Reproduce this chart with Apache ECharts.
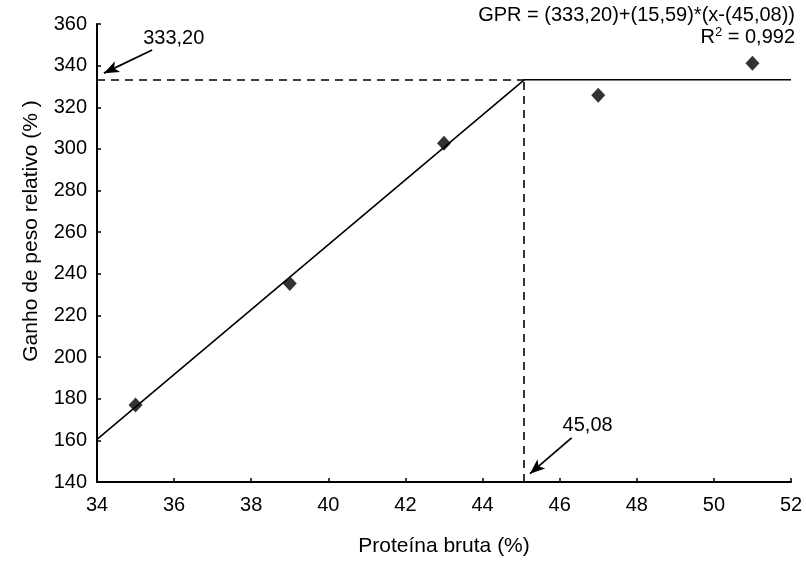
<!DOCTYPE html>
<html>
<head>
<meta charset="utf-8">
<script src="https://cdn.jsdelivr.net/npm/echarts@6/dist/echarts.min.js"></script>
<style>
  html, body { margin: 0; padding: 0; background: #fff; }
  #chart { width: 806px; height: 565px; }
</style>
</head>
<body>
<div id="chart"></div>
<script>
// Observed relative weight gain by crude protein level
const proteinLevels = [35, 39, 43, 47, 51];
const weightGain = [177.0, 235.3, 302.7, 325.8, 341.2];

// Broken-line (plateau) model parameters
const plateau = 333.20;
const slope = 15.59;
const breakPoint = 45.08;
const rSquared = 0.992;
const xMin = 34, xMax = 52;
const yMin = 140, yMax = 360;

const fmt = (v, d) => v.toFixed(d).replace('.', ',');
const modelAt = x => Math.min(plateau, plateau + slope * (x - breakPoint));
const modelLine = [[xMin, modelAt(xMin)], [breakPoint, plateau], [xMax, plateau]];

// Callout arrows (tail -> head) in data units
const plateauArrow = [[35.43, 347.5], [34.18, 336.4]];
const breakArrow = [[46.31, 161.2], [45.23, 144.0]];

const FONT = 'Liberation Sans, Arial, sans-serif';
const chart = echarts.init(document.getElementById('chart'), null, { renderer: 'canvas' });

const axisCommon = {
  axisLine: { show: true, lineStyle: { color: '#000', width: 2 } },
  axisTick: { show: true, inside: true, length: 4, lineStyle: { color: '#000', width: 1.5 } },
  splitLine: { show: false },
  nameTextStyle: { color: '#000', fontSize: 21, fontFamily: FONT }
};

chart.setOption({
  animation: false,
  grid: { left: 97, right: 15, top: 24, bottom: 83 },
  xAxis: Object.assign({
    type: 'value', min: xMin, max: xMax, interval: 2,
    name: 'Proteína bruta (%)', nameLocation: 'middle', nameGap: 54,
    axisLabel: { color: '#000', fontSize: 20, fontFamily: FONT, margin: 13 }
  }, axisCommon),
  yAxis: Object.assign({
    type: 'value', min: yMin, max: yMax, interval: 20,
    axisLabel: { color: '#000', fontSize: 20, fontFamily: FONT, margin: 10 }
  }, axisCommon),
  series: [
    {
      type: 'line',
      data: modelLine,
      showSymbol: false,
      lineStyle: { color: '#000', width: 1.6 },
      z: 2,
      markLine: {
        silent: true,
        symbol: ['none', 'none'],
        label: { show: false },
        lineStyle: { color: '#000', width: 1.6, type: [8, 6] },
        data: [
          [{ coord: [xMin, plateau] }, { coord: [breakPoint, plateau] }],
          [{ coord: [breakPoint, yMin] }, { coord: [breakPoint, plateau] }]
        ]
      }
    },
    {
      type: 'line',
      data: [],
      markLine: {
        silent: true,
        symbol: ['none', 'arrow'],
        symbolSize: [9, 15],
        label: { show: false },
        lineStyle: { color: '#000', width: 1.8, type: 'solid' },
        data: [
          [{ coord: plateauArrow[0] }, { coord: plateauArrow[1] }],
          [{ coord: breakArrow[0] }, { coord: breakArrow[1] }]
        ]
      }
    },
    {
      type: 'scatter',
      data: proteinLevels.map((x, i) => [x, weightGain[i]]),
      symbol: 'diamond',
      symbolSize: [14, 15],
      itemStyle: { color: '#000' },
      z: 5
    }
  ]
});

// Callout texts placed next to the arrow tails
const p1 = chart.convertToPixel({ gridIndex: 0 }, plateauArrow[0]);
const p2 = chart.convertToPixel({ gridIndex: 0 }, breakArrow[0]);
const gridTop = chart.convertToPixel({ gridIndex: 0 }, [xMin, yMax])[1];
const gridBottom = chart.convertToPixel({ gridIndex: 0 }, [xMin, yMin])[1];
chart.setOption({
  graphic: [
    { type: 'text', x: 31, y: (gridTop + gridBottom) / 2 - 22, rotation: Math.PI / 2,
      style: { text: 'Ganho de peso relativo (% )', font: '21px ' + FONT, fill: '#000',
               textAlign: 'center', textVerticalAlign: 'middle' } },
    { type: 'text', x: p1[0] - 9, y: p1[1] - 12,
      style: { text: fmt(plateau, 2), font: '20px ' + FONT, fill: '#000', textVerticalAlign: 'middle' } },
    { type: 'text', x: p2[0] - 9, y: p2[1] - 12,
      style: { text: fmt(breakPoint, 2), font: '20px ' + FONT, fill: '#000', textVerticalAlign: 'middle' } },
    { type: 'text', x: 795, y: 15,
      style: { text: 'GPR = (' + fmt(plateau, 2) + ')+(' + fmt(slope, 2) + ')*(x-(' + fmt(breakPoint, 2) + '))',
               font: '20px ' + FONT, fill: '#000', textAlign: 'right', textVerticalAlign: 'middle' } },
    { type: 'text', x: 795, y: 37,
      style: {
        text: '{b|R}{s|2}{b| = ' + fmt(rSquared, 3) + '}',
        textAlign: 'right', textVerticalAlign: 'middle',
        rich: {
          b: { fontSize: 20, fontFamily: FONT, fill: '#000', lineHeight: 22 },
          s: { fontSize: 13, fontFamily: FONT, fill: '#000', lineHeight: 22, verticalAlign: 'top', padding: [0, 0, 0, 0] }
        }
      } }
  ]
});
</script>
</body>
</html>
